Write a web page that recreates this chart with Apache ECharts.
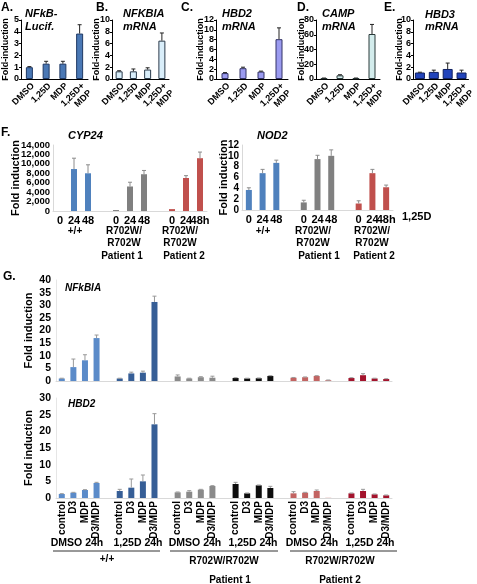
<!DOCTYPE html>
<html><head><meta charset="utf-8">
<script src="https://cdn.jsdelivr.net/npm/echarts@6/dist/echarts.min.js"></script>
<style>html,body{margin:0;padding:0;background:#fff}#c{width:477px;height:584px}</style>
</head><body><div id="c"></div>
<script>
// ---------- DATA ----------
const topCats = ['DMSO', '1,25D', 'MDP', '1,25D+\nMDP'];
const aVals = [1.0, 1.3, 1.3, 3.85];
const aErr  = [0.05, 0.2, 0.2, 0.75];
const bVals = [1.3, 1.3, 1.6, 6.5];
const bErr  = [0.1, 0.4, 0.3, 1.3];
const cVals = [1.2, 2.2, 1.5, 8.1];
const cErr  = [0.1, 0.2, 0.1, 2.3];
const dVals = [1.0, 5.0, 1.0, 61];
const dErr  = [0.3, 0.8, 0.3, 13];
const eVals = [1.1, 1.2, 1.7, 1.1];
const eErr  = [0.05, 0.3, 1.0, 0.4];

const fCats = ['0', '24', '48', '', '0', '24', '48', '', '0', '24', '48h'];
const cypVals = [0, 8900, 8000, null, 200, 5200, 7800, null, 400, 7000, 11200];
const cypErr  = [0, 2300, 1800, null, 0, 900, 800, null, 0, 500, 1300];
const nodVals = [3.7, 6.8, 8.7, null, 1.4, 9.4, 10.0, null, 1.2, 6.8, 4.2];
const nodErr  = [0.4, 0.7, 0.5, null, 0.4, 0.7, 1.1, null, 0.5, 0.7, 0.4];

const gCats = ['control', 'D3', 'MDP', 'D3/MDP', '',
               'control', 'D3', 'MDP', 'D3/MDP', '',
               'control', 'D3', 'MDP', 'D3/MDP', '',
               'control', 'D3', 'MDP', 'D3/MDP', '',
               'control', 'D3', 'MDP', 'D3/MDP', '',
               'control', 'D3', 'MDP', 'D3/MDP'];
const nfkbiaVals = [1.0, 5.5, 8.2, 17.0, null, 1.0, 3.0, 3.3, 31.3, null,
                    1.8, 1.0, 1.5, 1.3, null, 1.2, 1.0, 1.1, 2.0, null,
                    1.3, 1.5, 2.0, 0.3, null, 1.2, 2.3, 1.0, 0.8];
const nfkbiaErr  = [0.1, 3.2, 2.2, 1.2, null, 0.1, 0.5, 0.6, 2.3, null,
                    0.6, 0.1, 0.2, 0.6, null, 0.1, 0.1, 0.1, 0.1, null,
                    0.1, 0.1, 0.1, 0.1, null, 0.1, 0.6, 0.1, 0.1];
const hbd2Vals = [1.2, 1.6, 2.4, 4.5, null, 2.1, 3.1, 5.0, 22.1, null,
                  1.7, 1.9, 2.5, 3.6, null, 4.2, 1.4, 3.8, 3.0, null,
                  1.4, 1.6, 2.1, 0.05, null, 1.4, 2.1, 1.1, 0.8];
const hbd2Err  = [0.1, 0.1, 0.1, 0.2, null, 0.5, 2.6, 1.9, 3.2, null,
                  0.1, 0.3, 0.1, 0.1, null, 0.5, 0.1, 0.1, 0.5, null,
                  0.5, 0.1, 0.3, 0, null, 0.1, 0.5, 0.1, 0.1];

// ---------- STYLE ----------
const FF = '"Liberation Sans", Arial, sans-serif';
const fColors = ['#4f81bd', '#808080', '#c0504d'];
const gColors = ['#5b8bc9', '#365e96', '#8a8a8a', '#0d0d0d', '#c26462', '#a3132c'];

const chart = echarts.init(document.getElementById('c'), null, {renderer: 'canvas'});

function errSeries(xi, vals, errs, color, capW) {
  const data = [];
  vals.forEach((v, i) => { if (v != null && errs[i] > 0) data.push([i, v, errs[i]]); });
  return {
    type: 'custom', xAxisIndex: xi, yAxisIndex: xi, z: 5, silent: true,
    encode: {x: 0, y: 1}, data,
    renderItem: (params, api) => {
      const x = api.value(0), v = api.value(1), e = api.value(2);
      const p0 = api.coord([x, v]), p1 = api.coord([x, v + e]);
      return {type: 'group', children: [
        {type: 'line', shape: {x1: p0[0], y1: p0[1], x2: p1[0], y2: p1[1]}, style: {stroke: color, lineWidth: 1}},
        {type: 'line', shape: {x1: p1[0] - capW, y1: p1[1], x2: p1[0] + capW, y2: p1[1]}, style: {stroke: color, lineWidth: 1}}
      ]};
    }
  };
}

const grids = [], xAxes = [], yAxes = [], series = [], extraY = [];

// top panels
const topDefs = [
  {left: 21, width: 67, vals: aVals, err: aErr, max: 5, step: 1, fill: '#4a78b5', border: '#1f3864', bw: 7, gap: 11},
  {left: 112, width: 57, vals: bVals, err: bErr, max: 10, step: 2, fill: '#d9eefa', border: '#2a3a4a', bw: 7, gap: 11},
  {left: 216, width: 72, vals: cVals, err: cErr, max: 12, step: 2, fill: '#9b9bf0', border: '#333366', bw: 7, gap: 11},
  {left: 316, width: 64, vals: dVals, err: dErr, max: 80, step: 20, fill: '#d3ecec', border: '#2a3a3a', bw: 7, gap: 10},
  {left: 413, width: 62, vals: eVals, err: eErr, max: 10, step: 2, fill: '#2244bb', border: '#102060', bw: 10, gap: 9}
];
topDefs.forEach((d, k) => {
  grids.push({left: d.left, top: 20, width: d.width, height: 59});
  xAxes.push({type: 'category', gridIndex: k, data: topCats,
    axisLine: {lineStyle: {color: '#000'}}, axisTick: {show: false},
    axisLabel: {interval: 0, rotate: 45, fontSize: 9, fontWeight: 'bold', color: '#000', fontFamily: FF,
      margin: 2, lineHeight: 10, verticalAlign: 'top', align: 'right'}});
  yAxes.push({type: 'value', gridIndex: k, min: 0, max: d.max, interval: d.step,
    name: 'Fold-induction', nameLocation: 'middle', nameGap: d.gap, nameMoveOverlap: false,
    nameTextStyle: {fontSize: 9, fontWeight: 'bold', color: '#000', fontFamily: FF},
    axisLine: {show: true, lineStyle: {color: '#000'}}, axisTick: {show: true, length: 2, lineStyle: {color: '#000'}},
    splitLine: {show: false},
    axisLabel: {fontSize: 9, fontWeight: 'bold', color: '#000', fontFamily: FF, margin: 2, showMinLabel: true, showMaxLabel: true}});
  series.push({type: 'bar', xAxisIndex: k, yAxisIndex: k, data: d.vals, barWidth: d.bw,
    itemStyle: {color: d.fill, borderColor: d.border, borderWidth: 1}, silent: true});
  series.push(errSeries(k, d.vals, d.err, '#222', 2));
});

// F panels
const fDefs = [
  {left: 53, top: 145, width: 154, height: 66, vals: cypVals, err: cypErr, max: 14000, step: 2000, gap: 32, split: true, fs: 9.5},
  {left: 242, top: 145, width: 151, height: 65, vals: nodVals, err: nodErr, max: 12, step: 2, gap: 13, split: false, fs: 10}
];
fDefs.forEach((d, j) => {
  const k = grids.length;
  grids.push({left: d.left, top: d.top, width: d.width, height: d.height});
  xAxes.push({type: 'category', gridIndex: k, data: fCats,
    axisLine: {lineStyle: {color: '#d9d9d9'}}, axisTick: {show: false},
    axisLabel: {interval: 0, fontSize: 11, fontWeight: 'bold', color: '#000', fontFamily: FF, margin: 4}});
  const lab = (keep) => ({fontSize: d.fs, fontWeight: 'bold', color: '#000', fontFamily: FF, margin: 3,
    showMinLabel: true, showMaxLabel: true, hideOverlap: false,
    formatter: v => (keep(v) ? v.toLocaleString('en-US') : '')});
  yAxes.push({type: 'value', gridIndex: k, min: 0, max: d.max, interval: d.step,
    name: 'Fold induction', nameLocation: 'middle', nameGap: d.gap, nameMoveOverlap: false,
    nameTextStyle: {fontSize: 11, fontWeight: 'bold', color: '#000', fontFamily: FF},
    axisLine: {show: true, lineStyle: {color: '#d9d9d9'}}, axisTick: {show: false}, splitLine: {show: false},
    axisLabel: lab(v => !d.split || (v / d.step) % 2 === 0)});
  if (d.split) {
    extraY.push({type: 'value', gridIndex: k, position: 'left', min: 0, max: d.max, interval: d.step,
      axisLine: {show: false}, axisTick: {show: false}, splitLine: {show: false},
      axisLabel: lab(v => (v / d.step) % 2 === 1)});
  }
  series.push({type: 'bar', xAxisIndex: k, yAxisIndex: k, barWidth: 6, silent: true,
    data: d.vals.map((v, i) => v == null ? null : {value: v, itemStyle: {color: fColors[Math.floor(i / 4)]}})});
  series.push(errSeries(k, d.vals, d.err, '#8c8c8c', 2));
});

// G panels
const gDefs = [
  {top: 280, height: 101, vals: nfkbiaVals, err: nfkbiaErr, max: 40, labels: false},
  {top: 398, height: 100, vals: hbd2Vals, err: hbd2Err, max: 30, labels: true}
];
gDefs.forEach((d, j) => {
  const k = grids.length;
  grids.push({left: 56, top: d.top, width: 336, height: d.height});
  xAxes.push({type: 'category', gridIndex: k, data: gCats,
    axisLine: {lineStyle: {color: '#d9d9d9'}}, axisTick: {show: false},
    axisLabel: {show: d.labels, interval: 0, rotate: 90, fontSize: 10, fontWeight: 'bold', color: '#000', fontFamily: FF, margin: 3}});
  yAxes.push({type: 'value', gridIndex: k, min: 0, max: d.max, interval: 5,
    name: 'Fold induction', nameLocation: 'middle', nameGap: 22, nameMoveOverlap: false,
    nameTextStyle: {fontSize: 11, fontWeight: 'bold', color: '#000', fontFamily: FF},
    axisLine: {show: true, lineStyle: {color: '#e6e6e6'}}, axisTick: {show: false}, splitLine: {show: false},
    axisLabel: {fontSize: 10.5, fontWeight: 'bold', color: '#000', fontFamily: FF, margin: 5, showMinLabel: true, showMaxLabel: true}});
  series.push({type: 'bar', xAxisIndex: k, yAxisIndex: k, barWidth: 6, silent: true,
    data: d.vals.map((v, i) => v == null ? null : {value: v, itemStyle: {color: gColors[Math.floor(i / 5)]}})});
  series.push(errSeries(k, d.vals, d.err, '#999', 2));
});
extraY.forEach(a => yAxes.push(a));

// ---------- TEXT ----------
function T(x, y, text, opt) {
  opt = opt || {};
  return {type: 'text', x, y, silent: true, style: {text, fill: '#000', fontFamily: FF,
    fontSize: opt.size || 11, fontWeight: 'bold', fontStyle: opt.italic ? 'italic' : 'normal',
    align: opt.align || 'left', verticalAlign: 'middle', lineHeight: opt.lh || 13}};
}
function L(x1, x2, y) {
  return {type: 'line', silent: true, shape: {x1, y1: y, x2, y2: y}, style: {stroke: '#333', lineWidth: 1}};
}
const graphics = [
  T(1, 8, 'A.', {size: 12}), T(25, 14, 'NFkB-', {italic: true, size: 11}), T(25, 27, 'Lucif.', {italic: true, size: 11}),
  T(96, 8, 'B.', {size: 12}), T(123, 14, 'NFKBIA', {italic: true, size: 11}), T(123, 27, 'mRNA', {italic: true, size: 11}),
  T(181, 8, 'C.', {size: 12}), T(222, 14, 'HBD2', {italic: true, size: 11}), T(222, 27, 'mRNA', {italic: true, size: 11}),
  T(297, 8, 'D.', {size: 12}), T(322, 14, 'CAMP', {italic: true, size: 11}), T(322, 27, 'mRNA', {italic: true, size: 11}),
  T(384, 8, 'E.', {size: 12}), T(425, 15, 'HBD3', {italic: true, size: 11}), T(425, 27, 'mRNA', {italic: true, size: 11}),
  T(1, 133, 'F.', {size: 12}), T(68, 136, 'CYP24', {italic: true, size: 11}), T(257, 136, 'NOD2', {italic: true, size: 11}),
  T(75, 231, '+/+', {align: 'center', size: 10}),
  T(124, 237, 'R702W/\nR702W', {align: 'center', size: 10, lh: 12}),
  T(122, 256, 'Patient 1', {align: 'center', size: 10}),
  T(180, 237, 'R702W/\nR702W', {align: 'center', size: 10, lh: 12}),
  T(184, 256, 'Patient 2', {align: 'center', size: 10}),
  T(263, 231, '+/+', {align: 'center', size: 10}),
  T(313, 237, 'R702W/\nR702W', {align: 'center', size: 10, lh: 12}),
  T(319, 256, 'Patient 1', {align: 'center', size: 10}),
  T(372, 237, 'R702W/\nR702W', {align: 'center', size: 10, lh: 12}),
  T(374, 256, 'Patient 2', {align: 'center', size: 10}),
  T(402, 217, '1,25D', {size: 11}),
  T(3, 277, 'G.', {size: 12}), T(65, 288, 'NFkBIA', {italic: true, size: 10}), T(68, 404, 'HBD2', {italic: true, size: 10}),
  T(77, 543, 'DMSO 24h', {align: 'center', size: 10.5}),
  T(138, 543, '1,25D 24h', {align: 'center', size: 10.5}),
  T(195, 543, 'DMSO 24h', {align: 'center', size: 10.5}),
  T(253, 543, '1,25D 24h', {align: 'center', size: 10.5}),
  T(312, 543, 'DMSO 24h', {align: 'center', size: 10.5}),
  T(370, 543, '1,25D 24h', {align: 'center', size: 10.5}),
  L(53, 160, 551), L(170, 278, 551), L(290, 397, 551),
  T(107, 559, '+/+', {align: 'center', size: 10}),
  T(224, 561, 'R702W/R702W', {align: 'center', size: 10}),
  T(340, 561, 'R702W/R702W', {align: 'center', size: 10}),
  T(230, 580, 'Patient 1', {align: 'center', size: 10}),
  T(340, 580, 'Patient 2', {align: 'center', size: 10})
];

chart.setOption({
  animation: false,
  backgroundColor: '#fff',
  textStyle: {fontFamily: FF},
  grid: grids, xAxis: xAxes, yAxis: yAxes, series,
  graphic: graphics
});
</script></body></html>
